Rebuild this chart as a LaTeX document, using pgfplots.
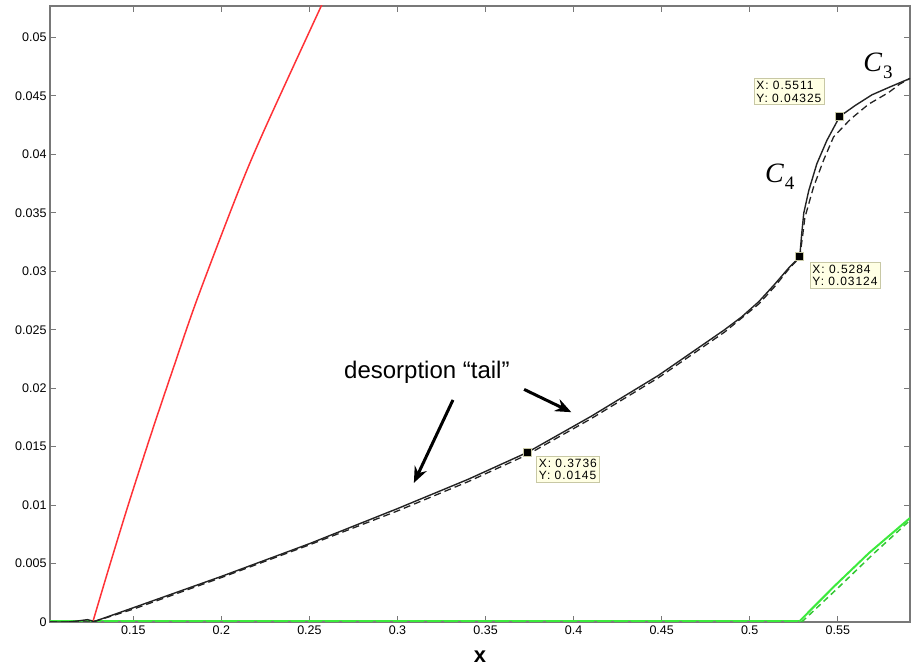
\documentclass[border=0pt]{standalone}
\usepackage{pgfplots}
\pgfplotsset{compat=1.18}
\usetikzlibrary{arrows.meta}
\usepackage{fontspec}
\setmainfont{Liberation Sans}
\newfontfamily\serifit{Liberation Serif}
\newfontfamily\tipfont{Liberation Sans}[LetterSpace=8.0]
\definecolor{curve}{RGB}{35,35,35}
\definecolor{redc}{RGB}{255,50,55}
\definecolor{greenc}{RGB}{60,235,60}
\definecolor{boxfill}{RGB}{255,255,228}
\definecolor{boxdraw}{RGB}{200,200,165}
\definecolor{axisgray}{RGB}{120,120,120}

\begin{document}
\begin{tikzpicture}
\begin{axis}[
  scale only axis, width=860pt, height=616pt,
  xmin=0.1027, xmax=0.591, ymin=0, ymax=0.0527,
  xtick={0.15,0.2,0.25,0.3,0.35,0.4,0.45,0.5,0.55},
  ytick={0,0.005,0.01,0.015,0.02,0.025,0.03,0.035,0.04,0.045,0.05},
  scaled ticks=false,
  xticklabel style={/pgf/number format/fixed, /pgf/number format/precision=2},
  yticklabel style={/pgf/number format/fixed, /pgf/number format/precision=3},
  /pgf/number format/assume math mode=true,
  tick label style={font=\fontsize{12.5}{12.5}\selectfont},
  tick align=inside, major tick length=6pt,
  axis line style={axisgray, line width=1.3pt},
  every tick/.style={axisgray, line width=1pt},
  xlabel={x},
  xlabel style={font=\fontsize{22}{22}\selectfont\bfseries, at={(axis description cs:0.5,0)}, anchor=center, yshift=-35pt},
  clip=true,
]
% green (y = 0 and rising branch)
\addplot[greenc, line width=3.6pt] coordinates {(0.1027,0) (0.5278,0)};
\addplot[greenc, line width=2pt] coordinates {
 (0.5278,0) (0.5483,0.0031) (0.5677,0.0059) (0.591,0.0089)};
\addplot[greenc!85!black, line width=1.5pt, dash pattern=on 6pt off 4pt] coordinates {
 (0.5295,0) (0.55,0.0029) (0.57,0.0058) (0.591,0.0087)};
\addplot[gray, line width=1.6pt, dash pattern=on 3pt off 14pt] coordinates {
 (0.1027,0.00004) (0.5278,0.00004)};
% red
\addplot[redc, line width=1.5pt, smooth, tension=0.5] coordinates {
 (0.1270,0) (0.1359,0.0045) (0.1473,0.0101) (0.1606,0.0163) (0.1729,0.0218)
 (0.1862,0.0276) (0.2090,0.0366) (0.2241,0.0420) (0.2564,0.0526) (0.2600,0.0537)};
% black dashed
\addplot[curve, line width=1.3pt, dash pattern=on 7pt off 4pt] coordinates {
 (0.1027,0) (0.127,0) (0.15,0.0011) (0.2,0.0038) (0.25,0.0066) (0.3,0.0095)
 (0.34,0.0120) (0.3736,0.0143) (0.41,0.0174) (0.4482,0.0209) (0.4857,0.0248)
 (0.5051,0.0272) (0.5142,0.0287) (0.5222,0.0302) (0.5284,0.0312) (0.5300,0.0330)
 (0.5313,0.0346) (0.5362,0.0372) (0.5419,0.0395) (0.5476,0.0415) (0.5571,0.0430)
 (0.5675,0.0443) (0.5789,0.0453) (0.5850,0.0460) (0.5910,0.0465)};
% black solid
\addplot[curve, line width=1.4pt] coordinates {
 (0.1027,0) (0.113,0) (0.119,0.0001) (0.124,0.0002) (0.1265,0.0001) (0.127,0)
 (0.15,0.00122) (0.2,0.0039) (0.25,0.0067) (0.3,0.0097) (0.34,0.0122)
 (0.3736,0.0145) (0.41,0.0176) (0.4482,0.0211) (0.4857,0.0250) (0.4954,0.0261)
 (0.5051,0.0274) (0.5142,0.0289) (0.5222,0.0303) (0.5284,0.03124) (0.5295,0.0332)
 (0.5307,0.0350) (0.5335,0.0369) (0.5381,0.0392) (0.5438,0.0412) (0.5511,0.04325)
 (0.5600,0.0442) (0.5694,0.0451) (0.5800,0.0458) (0.5910,0.0465)};
% data tips
\addplot[only marks, mark=square*, mark size=4pt, mark options={fill=black, draw=boxdraw, line width=0.8pt}] coordinates {
 (0.3736,0.0145) (0.5284,0.03124) (0.5511,0.04325)};
\node[draw=boxdraw, fill=boxfill, anchor=north west, align=left, inner sep=2.5pt, font=\tipfont\fontsize{12}{12.5}\selectfont] at (axis cs:0.5022,0.0465) {X: 0.5511\\Y: 0.04325};
\node[draw=boxdraw, fill=boxfill, anchor=north west, align=left, inner sep=2.5pt, font=\tipfont\fontsize{12}{12.5}\selectfont] at (axis cs:0.5341,0.03077) {X: 0.5284\\Y: 0.03124};
\node[draw=boxdraw, fill=boxfill, anchor=north west, align=left, inner sep=2.5pt, font=\tipfont\fontsize{12}{12.5}\selectfont] at (axis cs:0.3787,0.01419) {X: 0.3736\\Y: 0.0145};
% annotations
\node[font=\fontsize{24}{24}\selectfont] at (axis cs:0.3167,0.0214) {desorption “tail”};
\draw[line width=3pt, -{Stealth[length=16pt,width=13pt]}] (axis cs:0.3315,0.0190) -- (axis cs:0.3093,0.0119);
\draw[line width=3pt, -{Stealth[length=16pt,width=13pt]}] (axis cs:0.3719,0.0199) -- (axis cs:0.3987,0.01795);
\node[font=\serifit\fontsize{28}{28}\selectfont] at (axis cs:0.5728,0.0476) {\itshape C\kern1pt\raisebox{-7pt}{\upshape\fontsize{19}{19}\selectfont 3}};
\node[font=\serifit\fontsize{28}{28}\selectfont] at (axis cs:0.5170,0.0381) {\itshape C\kern1pt\raisebox{-7pt}{\upshape\fontsize{19}{19}\selectfont 4}};
\end{axis}
\pgfresetboundingbox
\path[use as bounding box] ([shift={(-50pt,-45pt)}]current axis.south west) rectangle ([shift={(4pt,6pt)}]current axis.north east);
\end{tikzpicture}
\end{document}
